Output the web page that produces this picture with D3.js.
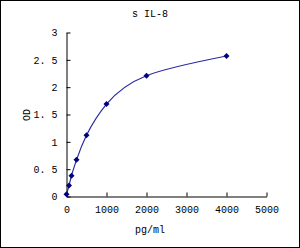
<!DOCTYPE html>
<html>
<head>
  <meta charset="UTF-8">
  <style>
    body { margin: 0; background: #fff; }
    text { font-family: "Liberation Mono", monospace; fill: #000; }
  </style>
</head>
<body>
<svg></svg>
<script src="https://d3js.org/d3.v7.min.js"></script>
<script>
let width = 300, height = 248;

// standard curve values
let conc = [0, 62.5, 125, 250, 500, 1000, 2000, 4000];
let od = [0.04, 0.20, 0.38, 0.67, 1.12, 1.69, 2.21, 2.57];
let xTicks = [0, 1000, 2000, 3000, 4000, 5000];
let yTicks = [0, 0.5, 1, 1.5, 2, 2.5, 3];

let svg = d3.select("svg")
    .attr("width", width)
    .attr("height", height);

// outer border
svg.append("rect")
    .attr("x", 0.5).attr("y", 0.5)
    .attr("width", width - 1).attr("height", height - 1)
    .attr("fill", "#fff")
    .attr("stroke", "#000");

let x = d3.scaleLinear().domain([0, 5000]).range([66.5, 266.5]);
let y = d3.scaleLinear().domain([0, 3]).range([196.5, 32.5]);

// x axis, ticks pointing inward
let xAxis = svg.append("g")
    .attr("transform", "translate(0," + y(0) + ")")
    .call(d3.axisBottom(x).tickValues(xTicks).tickSizeInner(-4).tickSizeOuter(0).tickPadding(9).tickFormat(d3.format("d")));

let yAxis = svg.append("g")
    .attr("transform", "translate(" + x(0) + ",0)")
    .call(d3.axisLeft(y).tickValues(yTicks).tickSizeInner(-4).tickSizeOuter(0).tickPadding(9).tickFormat(d => d === Math.floor(d) ? d : d3.format(".1f")(d).replace(".", ". ")));

svg.selectAll(".domain, .tick line").attr("stroke", "#000");
svg.selectAll(".tick text").style("font-size", "10px").attr("font-family", "Liberation Mono").attr("fill", "#222");

// fitted curve
let line = d3.line()
    .x((d, i) => x(conc[i]))
    .y(d => y(d))
    .curve(d3.curveNatural);

svg.append("path")
    .datum(od)
    .attr("d", line)
    .attr("fill", "none")
    .attr("stroke", "#2b2ba0")
    .attr("stroke-width", 1.2);

// diamond markers
svg.append("g")
    .selectAll("path")
    .data(od)
    .enter()
    .append("path")
    .attr("transform", (d, i) => "translate(" + x(conc[i]) + "," + y(d) + ")")
    .attr("d", "M0,-3L3,0L0,3L-3,0Z")
    .attr("fill", "#000080");

// titles
svg.append("text")
    .attr("x", 150).attr("y", 17)
    .attr("text-anchor", "middle")
    .style("font-size", "10px")
    .text("s IL-8");

svg.append("text")
    .attr("x", 150).attr("y", 233)
    .attr("text-anchor", "middle")
    .style("font-size", "10px")
    .text("pg/ml");

svg.append("text")
    .attr("transform", "translate(30,115) rotate(-90)")
    .attr("text-anchor", "middle")
    .style("font-size", "10px")
    .text("OD");
</script>
</body>
</html>
